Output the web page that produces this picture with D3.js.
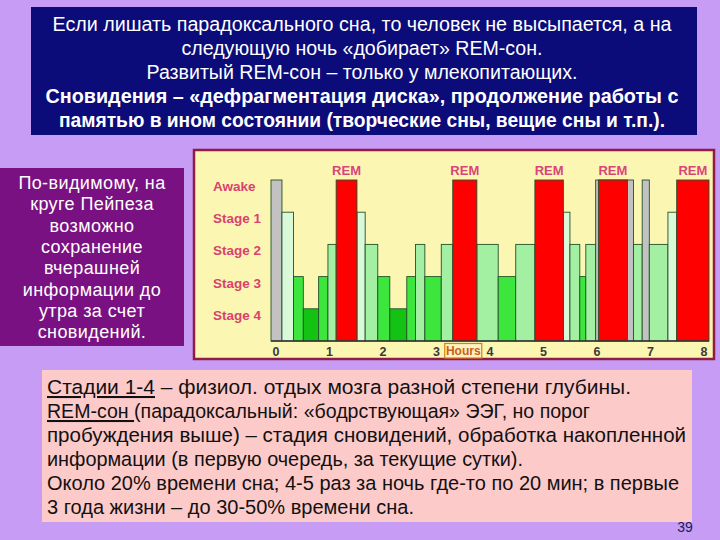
<!DOCTYPE html>
<html>
<head>
<meta charset="utf-8">
<script src="https://cdn.jsdelivr.net/npm/d3@7"></script>
<style>
  body { margin: 0; background: #c79cf4; }
  svg { display: block; }
</style>
</head>
<body>
<svg id="slide" width="720" height="540"></svg>
<script>
// sleep hypnogram, hours from start of the night
const stages = ["Awake", "Stage 1", "Stage 2", "Stage 3", "Stage 4"];
const stageLevel = { "Awake": 5, "REM": 5, "Stage 1": 4, "Stage 2": 3, "Stage 3": 2, "Stage 4": 1 };
const hourTicks = [0, 1, 2, 3, 4, 5, 6, 7, 8];

const segStart = [0, 0.20, 0.41, 0.59, 0.87, 1.04, 1.19, 1.57, 1.72, 1.95, 2.17, 2.48, 2.64, 2.81, 3.11, 3.32,
  3.76, 4.15, 4.47, 4.82, 5.34, 5.46, 5.64, 5.75, 5.93, 5.98, 6.62, 6.78, 6.91, 7.25, 7.41];
const segEnd = [0.20, 0.41, 0.59, 0.87, 1.04, 1.19, 1.57, 1.72, 1.95, 2.17, 2.48, 2.64, 2.81, 3.11, 3.32, 3.76,
  4.15, 4.47, 4.82, 5.34, 5.46, 5.64, 5.75, 5.93, 6.62, 6.51, 6.78, 6.91, 7.25, 7.41, 8.0];
const segStage = ["Awake", "Stage 1", "Stage 3", "Stage 4", "Stage 3", "Stage 2", "REM", "Stage 1", "Stage 2",
  "Stage 3", "Stage 4", "Stage 3", "Stage 2", "Stage 3", "Stage 2", "REM", "Stage 2", "Stage 3", "Stage 2", "REM",
  "Stage 1", "Stage 2", "Stage 3", "Stage 2", "Awake", "REM", "Stage 2", "Awake", "Stage 2", "Stage 1", "REM"];

const titleLines = [
  "Если лишать парадоксального сна, то человек не высыпается, а на",
  "следующую ночь «добирает» REM-сон.",
  "Развитый REM-сон – только у млекопитающих.",
  "Сновидения – «дефрагментация диска», продолжение работы с",
  "памятью в ином состоянии (творческие сны, вещие сны и т.п.)."
];
const sideLines = ["По-видимому, на", "круге Пейпеза", "возможно", "сохранение", "вчерашней",
  "информации до", "утра за счет", "сновидений."];
const noteLines = [
  "физиол. отдых мозга разной степени глубины.",
  "(парадоксальный: «бодрствующая» ЭЭГ, но порог",
  "пробуждения выше) – стадия сновидений, обработка накопленной",
  "информации (в первую очередь, за текущие сутки).",
  "Около 20% времени сна; 4-5 раз за ночь где-то по 20 мин; в первые",
  "3 года жизни – до 30-50% времени сна."
];

const segments = segStart.map((s, i) => ({ start: s, end: segEnd[i], stage: segStage[i] }));

const color = {
  "Awake": "#c2c2c2", "REM": "#ff0000", "Stage 1": "#d9f9d9",
  "Stage 2": "#a3f0a3", "Stage 3": "#3de63d", "Stage 4": "#14c214"
};

const svg = d3.select("#slide");
const FONT = "'Liberation Sans', Arial, sans-serif";

// title box
svg.append("rect").attr("x", 31).attr("y", 7).attr("width", 666).attr("height", 128).attr("fill", "#0b0b7a");
const titleW = [619, 361, 431, 633, 606];
svg.append("g").selectAll("text").data(titleLines).join("text")
  .attr("x", 362).attr("y", (d, i) => 30.5 + i * 24)
  .attr("text-anchor", "middle")
  .attr("textLength", (d, i) => titleW[i]).attr("lengthAdjust", "spacingAndGlyphs")
  .attr("font-family", FONT).attr("font-size", 19.5)
  .attr("font-weight", (d, i) => i >= 3 ? "bold" : "normal")
  .attr("fill", "#fff").text(d => d);

// left purple box
svg.append("rect").attr("x", 0).attr("y", 168).attr("width", 184).attr("height", 178).attr("fill", "#7a1182");
svg.append("g").selectAll("text").data(sideLines).join("text")
  .attr("x", 92).attr("y", (d, i) => 189 + i * 21.3)
  .attr("text-anchor", "middle")
  .attr("font-family", FONT).attr("font-size", 18).attr("letter-spacing", 0.4)
  .attr("fill", "#fff").text(d => d);

// chart panel
svg.append("rect").attr("x", 194).attr("y", 150).attr("width", 520).attr("height", 209)
  .attr("fill", "#fbf6b2").attr("stroke", "#8e1c45").attr("stroke-width", 2.5);

const x = d3.scaleLinear().domain([0, 8]).range([271, 709]);
const xLabel = d3.scaleLinear().domain([0, 8]).range([276, 704]);
const y = d3.scaleLinear().domain([0, 5]).range([341, 180]);

const ordered = segments.filter(d => d.stage !== "REM").concat(segments.filter(d => d.stage === "REM"));
svg.append("g").selectAll("rect").data(ordered).join("rect")
  .attr("x", d => x(d.start)).attr("width", d => x(d.end) - x(d.start))
  .attr("y", d => y(stageLevel[d.stage])).attr("height", d => y(0) - y(stageLevel[d.stage]))
  .attr("fill", d => color[d.stage])
  .attr("stroke", "#24502a").attr("stroke-width", 0.9);

svg.append("line").attr("x1", x(0)).attr("x2", x(8)).attr("y1", y(0)).attr("y2", y(0))
  .attr("stroke", "#333").attr("stroke-width", 1.5);

// REM labels
svg.append("g").selectAll("text").data(segments.filter(d => d.stage === "REM")).join("text")
  .attr("x", d => x((d.start + d.end) / 2)).attr("y", y(5) - 5)
  .attr("text-anchor", "middle")
  .attr("font-family", FONT).attr("font-size", 13).attr("font-weight", "bold")
  .attr("fill", "#d8457a").text("REM");

// stage labels
svg.append("g").selectAll("text").data(stages).join("text")
  .attr("x", 213).attr("y", d => y(stageLevel[d]) + 11)
  .attr("font-family", FONT).attr("font-size", 13.5).attr("font-weight", "bold")
  .attr("fill", "#d9426e").text(d => d);

// hour ticks
svg.append("g").selectAll("text").data(hourTicks).join("text")
  .attr("x", d => xLabel(d)).attr("y", 356)
  .attr("text-anchor", "middle")
  .attr("font-family", FONT).attr("font-size", 12.5).attr("font-weight", "bold")
  .attr("fill", "#3a3a3a").text(d => d);

const hx = (xLabel(3) + xLabel(4)) / 2;
svg.append("rect").attr("x", hx - 18.5).attr("y", 343.5).attr("width", 37).attr("height", 14.5)
  .attr("fill", "#fff3c0").attr("stroke", "#e07a20").attr("stroke-width", 1.2);
svg.append("text").attr("x", hx).attr("y", 355).attr("text-anchor", "middle")
  .attr("font-family", FONT).attr("font-size", 12).attr("font-weight", "bold")
  .attr("fill", "#c9601a").text("Hours");

// notes box
svg.append("rect").attr("x", 42).attr("y", 370).attr("width", 650).attr("height", 152).attr("fill", "#fdcaca");
const noteW = [584, 543, 639, 476, 632, 367];
const notes = svg.append("g").attr("font-family", FONT).attr("font-size", 20.5).attr("fill", "#111");
notes.selectAll("text").data(noteLines).join("text")
  .attr("x", 47).attr("y", (d, i) => 394 + i * 24)
  .attr("textLength", (d, i) => noteW[i]).attr("lengthAdjust", "spacingAndGlyphs")
  .text(d => d);
// first two lines carry underlined lead words
notes.selectAll("text").filter((d, i) => i < 2).each(function (d, i) {
  const t = d3.select(this);
  t.text(null).attr("textLength", null);
  t.append("tspan").attr("text-decoration", "underline").text(i === 0 ? "Стадии 1-4" : "REM-сон ");
  t.append("tspan").text(i === 0 ? " – " + d : d);
  t.attr("textLength", noteW[i]);
});

svg.append("text").attr("x", 685).attr("y", 532).attr("text-anchor", "middle")
  .attr("font-family", FONT).attr("font-size", 14).attr("fill", "#1c1c5c").text("39");
</script>
</body>
</html>
